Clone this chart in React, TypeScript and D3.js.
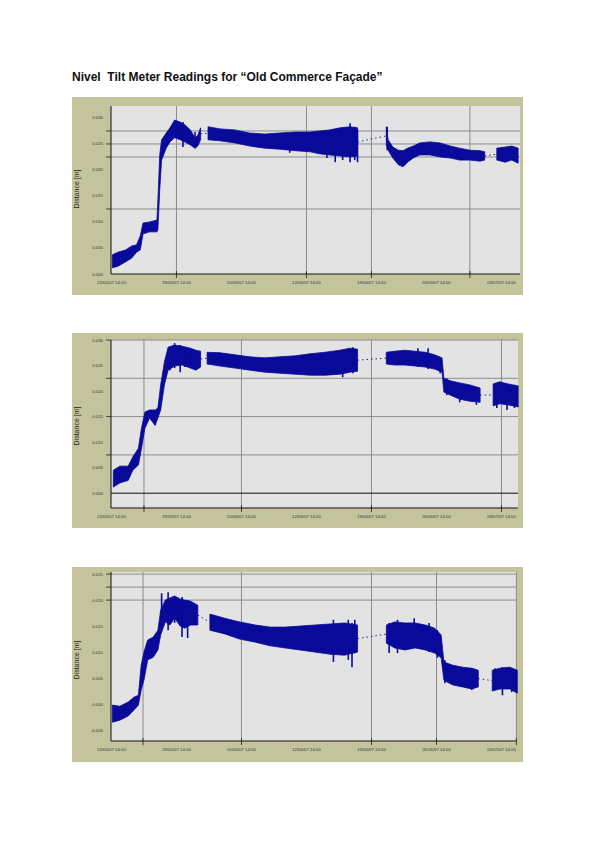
import * as d3 from "d3"

type Row = [number, number, number] // day, low (m), high (m)

const title = "Nivel  Tilt Meter Readings for \u201COld Commerce Fa\u00E7ade\u201D"
const yTitle = "Distance [m]"

// x ticks in days from the start of the record
const xTickDays = [0, 7, 14, 21, 28, 35, 42]
const xTickLabels = [
  "22/05/07 14:00",
  "29/05/07 14:00",
  "05/06/07 14:00",
  "12/06/07 14:00",
  "19/06/07 14:00",
  "26/06/07 14:00",
  "03/07/07 14:00",
]

const yTicks1 = [0.03, 0.025, 0.02, 0.015, 0.01, 0.005, 0]
const yTicks2 = [0.03, 0.025, 0.02, 0.015, 0.01, 0.005, 0]
const yTicks3 = [0.025, 0.02, 0.015, 0.01, 0.005, 0, -0.005]

const yGrid1 = [0.0275, 0.025, 0.0225, 0.0125]
const yGrid2 = [0.03, 0.0225, 0.015, 0.0075]
const yGrid3 = [0.025, 0.0225, 0.02]

const xGrid1 = [7, 21, 28, 38.6]
const xGrid2 = [3.5, 14, 28, 42]
const xGrid3 = [3.4, 14, 28, 35, 43.6]

// chart 1 readings (envelope of the noisy trace)
const c1a: Row[] = [
  [0.1, 0.0012, 0.0037], [0.7, 0.0015, 0.0042], [1.5, 0.0023, 0.0046], [2.2, 0.0031, 0.0054],
  [2.7, 0.0042, 0.0056], [3.1, 0.0046, 0.0073], [3.4, 0.0077, 0.0098], [4.1, 0.0081, 0.01],
  [4.9, 0.0081, 0.0104], [5.0, 0.0085, 0.0142], [5.2, 0.0162, 0.0229], [5.4, 0.0219, 0.0258],
  [5.9, 0.0242, 0.0271], [6.3, 0.0254, 0.0281], [6.8, 0.0262, 0.0296], [7.4, 0.0258, 0.0292],
  [7.9, 0.0254, 0.0287], [8.5, 0.0248, 0.0277], [9.0, 0.0242, 0.0262], [9.3, 0.0246, 0.0267],
  [9.6, 0.0258, 0.0281],
]
const c1b: Row[] = [
  [10.4, 0.0258, 0.0283], [11.7, 0.0256, 0.0279], [13.3, 0.0252, 0.0277], [14.9, 0.0246, 0.0271],
  [16.5, 0.0242, 0.0269], [18.1, 0.024, 0.0271], [19.8, 0.0237, 0.0273], [21.4, 0.0235, 0.0273],
  [22.4, 0.0231, 0.0275], [23.5, 0.0229, 0.0277], [24.6, 0.0227, 0.0281], [25.7, 0.0225, 0.0283],
  [26.5, 0.0227, 0.0281],
]
const c1c: Row[] = [
  [29.6, 0.0248, 0.0283], [29.8, 0.0238, 0.0258], [30.3, 0.0223, 0.0244], [30.9, 0.021, 0.0238],
  [31.4, 0.0206, 0.0237], [31.9, 0.0215, 0.0242], [32.5, 0.0223, 0.0246], [33.2, 0.0229, 0.0252],
  [34.3, 0.0229, 0.0254], [35.4, 0.0225, 0.0252], [36.5, 0.0223, 0.0246], [37.5, 0.0219, 0.0242],
  [38.6, 0.0219, 0.0238], [39.7, 0.0217, 0.0237], [40.2, 0.0219, 0.0235],
]
const c1d: Row[] = [
  [41.5, 0.0219, 0.0242], [42.4, 0.0215, 0.0244], [43.1, 0.0219, 0.0246], [43.8, 0.0213, 0.0242],
]
const c1spikes: Row[] = [
  [7.7, 0.0244, 0.0292], [9.0, 0.0242, 0.0273], [19.2, 0.0233, 0.0263], [21.1, 0.0235, 0.0273],
  [22.5, 0.0233, 0.0271], [23.2, 0.0223, 0.0273], [24.1, 0.0215, 0.0277], [24.9, 0.0219, 0.0273],
  [25.7, 0.0215, 0.029], [26.2, 0.0219, 0.0283], [26.5, 0.0215, 0.0277], [29.7, 0.0238, 0.0283],
]

// chart 2 readings
const c2a: Row[] = [
  [0.2, 0.0012, 0.0045], [0.9, 0.002, 0.0053], [1.8, 0.0025, 0.0053], [2.3, 0.0045, 0.0071],
  [2.9, 0.0055, 0.0088], [3.2, 0.0084, 0.0124], [3.6, 0.0127, 0.0159], [4.1, 0.0147, 0.0163],
  [4.7, 0.0133, 0.0163], [5.0, 0.0147, 0.0167], [5.3, 0.0163, 0.0212], [5.7, 0.0212, 0.0257],
  [6.1, 0.0241, 0.0286], [6.8, 0.0249, 0.029], [7.6, 0.0251, 0.0288], [8.5, 0.0245, 0.0284],
  [9.1, 0.0241, 0.028], [9.6, 0.0247, 0.0278],
]
const c2b: Row[] = [
  [10.3, 0.0253, 0.0276], [11.7, 0.0249, 0.0275], [13.3, 0.0245, 0.0271], [14.9, 0.0241, 0.0267],
  [16.5, 0.0237, 0.0265], [18.1, 0.0235, 0.0267], [19.8, 0.0233, 0.0269], [21.4, 0.0231, 0.0273],
  [23.0, 0.0231, 0.0276], [24.6, 0.0233, 0.028], [25.7, 0.0237, 0.0284], [26.5, 0.0239, 0.0282],
]
const c2c: Row[] = [
  [29.6, 0.0253, 0.0276], [30.5, 0.0251, 0.0278], [31.6, 0.0251, 0.028], [32.7, 0.0249, 0.0278],
  [33.8, 0.0247, 0.0276], [34.8, 0.0243, 0.0271], [35.6, 0.0237, 0.0265], [35.8, 0.0198, 0.0225],
  [36.5, 0.0192, 0.022], [37.5, 0.0184, 0.0216], [38.6, 0.018, 0.0212], [39.7, 0.0178, 0.0206],
]
const c2d: Row[] = [
  [41.1, 0.0171, 0.0214], [41.8, 0.0175, 0.0218], [42.7, 0.0173, 0.0214], [43.8, 0.0169, 0.021],
]
const c2spikes: Row[] = [
  [4.7, 0.0133, 0.0163], [6.3, 0.0241, 0.0284], [6.8, 0.0245, 0.0294], [7.4, 0.0237, 0.029],
  [7.9, 0.0247, 0.0284], [24.9, 0.0227, 0.028], [26.0, 0.0235, 0.0286], [33.0, 0.0247, 0.0284],
  [34.1, 0.0243, 0.0284], [35.4, 0.0235, 0.0265], [36.1, 0.0192, 0.0225], [37.5, 0.0178, 0.0212],
  [39.3, 0.0173, 0.0208], [41.5, 0.0167, 0.0216], [42.6, 0.0163, 0.0212], [43.4, 0.0167, 0.0212],
]

// chart 3 readings
const c3a: Row[] = [
  [0.1, -0.0035, -0.0002], [0.9, -0.0031, -0.0004], [1.8, -0.0023, 0.0004], [2.4, -0.0012, 0.0013],
  [2.9, -0.0002, 0.0017], [3.2, 0.0027, 0.0075], [3.5, 0.0046, 0.01], [3.9, 0.0085, 0.0123],
  [4.5, 0.009, 0.0129], [5.0, 0.0104, 0.0142], [5.3, 0.0133, 0.0181], [5.8, 0.0158, 0.02],
  [6.3, 0.0152, 0.0204], [6.8, 0.0165, 0.0208], [7.4, 0.0150, 0.0202], [7.9, 0.0146, 0.02],
  [8.5, 0.0152, 0.0198], [9.3, 0.0152, 0.019],
]
const c3b: Row[] = [
  [10.6, 0.0142, 0.0173], [12.2, 0.0135, 0.0165], [13.8, 0.0125, 0.0158], [15.5, 0.0119, 0.0152],
  [17.1, 0.0112, 0.0148], [18.7, 0.0108, 0.0148], [20.3, 0.0104, 0.015], [21.9, 0.01, 0.0152],
  [23.5, 0.0096, 0.0154], [25.1, 0.0094, 0.0156], [26.5, 0.01, 0.0152],
]
const c3c: Row[] = [
  [29.6, 0.0117, 0.0152], [30.5, 0.0108, 0.0158], [31.6, 0.0104, 0.0156], [32.7, 0.0108, 0.0156],
  [33.8, 0.0104, 0.0152], [34.8, 0.0098, 0.0146], [35.5, 0.0089, 0.0133], [35.8, 0.0046, 0.0081],
  [36.7, 0.0037, 0.0075], [37.8, 0.0033, 0.0071], [38.8, 0.0029, 0.0069], [39.5, 0.0033, 0.0065],
]
const c3d: Row[] = [
  [41.0, 0.0025, 0.0065], [41.8, 0.0029, 0.0069], [42.9, 0.0029, 0.0071], [43.7, 0.0021, 0.0065],
]
const c3spikes: Row[] = [
  [5.4, 0.0148, 0.0213], [6.1, 0.0142, 0.0215], [6.8, 0.0156, 0.0206], [7.6, 0.0129, 0.0206],
  [8.2, 0.0127, 0.0194], [23.9, 0.0081, 0.0162], [24.6, 0.01, 0.0156], [25.5, 0.0085, 0.0162],
  [25.9, 0.0071, 0.0156], [26.2, 0.0098, 0.0162], [29.9, 0.0098, 0.0156], [30.8, 0.0098, 0.0162],
  [32.6, 0.0108, 0.0165], [34.2, 0.01, 0.0156], [35.1, 0.0089, 0.0142], [35.9, 0.004, 0.0085],
  [37.7, 0.0033, 0.0071], [38.8, 0.0027, 0.0069], [41.3, 0.0027, 0.0069], [42.1, 0.0017, 0.0071],
  [43.1, 0.0023, 0.0069],
]

const tan = "#c4c49c"
const plotBg = "#e3e3e3"
const gridColor = "#8c8c8c"
const traceColor = "#0a0a9a"
const font = "'Liberation Sans', Arial, sans-serif"

interface PanelCfg {
  top: number
  bottom: number
  plotTop: number
  plotBottom: number
  plotRight: number
  xMax: number
  yDomain: [number, number]
  yTicks: number[]
  yGrid: number[]
  xGrid: number[]
  segments: Row[][]
  spikes: Row[]
  zeroLine?: boolean
  titleY: number
}

const panels: PanelCfg[] = [
  {
    top: 97, bottom: 295, plotTop: 106, plotBottom: 274, plotRight: 520, xMax: 44.0,
    yDomain: [0, 0.0323], yTicks: yTicks1, yGrid: yGrid1, xGrid: xGrid1,
    segments: [c1a, c1b, c1c, c1d], spikes: c1spikes, titleY: 189,
  },
  {
    top: 333, bottom: 528, plotTop: 340, plotBottom: 508, plotRight: 518, xMax: 43.78,
    yDomain: [-0.0029, 0.03], yTicks: yTicks2, yGrid: yGrid2, xGrid: xGrid2,
    segments: [c2a, c2b, c2c, c2d], spikes: c2spikes, zeroLine: true, titleY: 426,
  },
  {
    top: 567, bottom: 762, plotTop: 572, plotBottom: 741, plotRight: 516, xMax: 43.56,
    yDomain: [-0.0071, 0.0254], yTicks: yTicks3, yGrid: yGrid3, xGrid: xGrid3,
    segments: [c3a, c3b, c3c, c3d], spikes: c3spikes, titleY: 660,
  },
]

const left = 72
const right = 523
const plotLeft = 111

function Panel({ cfg }: { cfg: PanelCfg }) {
  const x = d3.scaleLinear().domain([-0.05, cfg.xMax]).range([plotLeft, cfg.plotRight])
  const y = d3.scaleLinear().domain(cfg.yDomain).range([cfg.plotBottom, cfg.plotTop])

  const band = d3
    .area<Row>()
    .x((d) => x(d[0]))
    .y0((d) => y(d[1]))
    .y1((d) => y(d[2]))

  const mid = (d: Row) => (d[1] + d[2]) / 2
  const gaps = cfg.segments.slice(1).map((seg, i) => {
    const prev = cfg.segments[i]
    const a = prev[prev.length - 1]
    const b = seg[0]
    return { x1: x(a[0]), y1: y(mid(a)), x2: x(b[0]), y2: y(mid(b)) }
  })

  return (
    <g>
      <rect x={left} y={cfg.top} width={right - left} height={cfg.bottom - cfg.top} fill={tan} />
      <rect
        x={plotLeft}
        y={cfg.plotTop}
        width={cfg.plotRight - plotLeft}
        height={cfg.plotBottom - cfg.plotTop}
        fill={plotBg}
      />
      {cfg.yGrid.map((v) => (
        <g key={"yg" + v}>
          <line x1={plotLeft} x2={cfg.plotRight} y1={y(v)} y2={y(v)} stroke={gridColor} strokeWidth={1} />
          <line x1={plotLeft - 5} x2={plotLeft} y1={y(v)} y2={y(v)} stroke="#222" strokeWidth={0.8} />
        </g>
      ))}
      {cfg.xGrid.map((v) => (
        <g key={"xg" + v}>
          <line x1={x(v)} x2={x(v)} y1={cfg.plotTop} y2={cfg.plotBottom} stroke={gridColor} strokeWidth={1} />
          <line x1={x(v)} x2={x(v)} y1={cfg.plotBottom - 3} y2={cfg.plotBottom + 4} stroke="#222" strokeWidth={0.8} />
        </g>
      ))}
      {cfg.zeroLine && (
        <line x1={plotLeft} x2={cfg.plotRight} y1={y(0)} y2={y(0)} stroke="#111" strokeWidth={1} />
      )}
      {gaps.map((g, i) => (
        <line
          key={"gap" + i}
          x1={g.x1}
          y1={g.y1}
          x2={g.x2}
          y2={g.y2}
          stroke={traceColor}
          strokeWidth={0.9}
          strokeDasharray="1.5,3"
        />
      ))}
      {cfg.segments.map((seg, i) => (
        <path
          key={"seg" + i}
          d={band(seg) ?? ""}
          fill={traceColor}
          stroke={traceColor}
          strokeWidth={0.8}
          strokeLinejoin="round"
        />
      ))}
      {cfg.spikes.map((s, i) => (
        <line
          key={"sp" + i}
          x1={x(s[0])}
          x2={x(s[0])}
          y1={y(s[1])}
          y2={y(s[2])}
          stroke={traceColor}
          strokeWidth={1.6}
        />
      ))}
      <line x1={plotLeft} x2={plotLeft} y1={cfg.plotTop} y2={cfg.plotBottom} stroke="#111" strokeWidth={1} />
      <line x1={plotLeft} x2={cfg.plotRight} y1={cfg.plotBottom} y2={cfg.plotBottom} stroke="#111" strokeWidth={1} />
      {cfg.yTicks.map((v) => (
        <text
          key={"yt" + v}
          x={103}
          y={y(v)}
          dy="0.35em"
          textAnchor="end"
          fontSize={4.3}
          fontFamily={font}
          fill="#333"
        >
          {v.toFixed(3)}
        </text>
      ))}
      {xTickDays.map((d, i) => (
        <text
          key={"xt" + d}
          x={x(d)}
          y={cfg.plotBottom + 10}
          textAnchor="middle"
          fontSize={4.3}
          fontFamily={font}
          fill="#333"
        >
          {xTickLabels[i]}
        </text>
      ))}
      <text
        transform={`translate(79,${cfg.titleY}) rotate(-90)`}
        textAnchor="middle"
        fontSize={7}
        fontFamily={font}
        fill="#222"
      >
        {yTitle}
      </text>
    </g>
  )
}

export default function App() {
  return (
    <svg
      width={595}
      height={842}
      viewBox="0 0 595 842"
      style={{ position: "absolute", left: 0, top: 0, background: "#fff" }}
    >
      <rect width={595} height={842} fill="#fff" />
      <text
        x={72}
        y={81}
        fontSize={12}
        fontWeight="bold"
        fontFamily={font}
        fill="#111"
        style={{ whiteSpace: "pre" }}
      >
        {title}
      </text>
      {panels.map((p, i) => (
        <Panel key={i} cfg={p} />
      ))}
    </svg>
  )
}
